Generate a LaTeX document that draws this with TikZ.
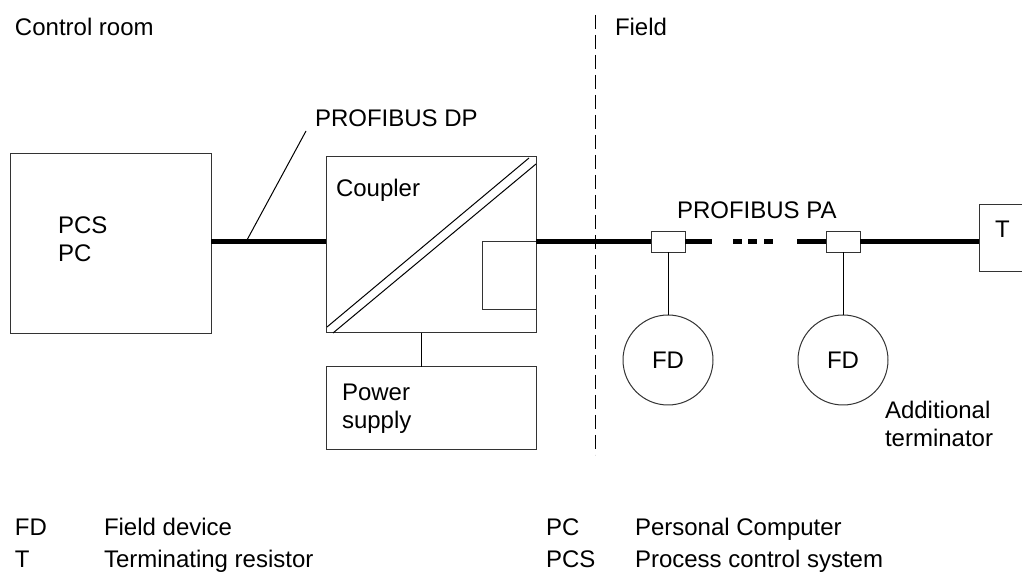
\documentclass[tikz,border=0pt]{standalone}
\usepackage{fontspec}
\setmainfont{Liberation Sans}
\begin{document}
\begin{tikzpicture}[x=0.75pt,y=-0.75pt,
  every node/.style={inner sep=0pt, outer sep=0pt, font=\fontsize{18}{21}\selectfont},
  frame/.style={draw=black!80, line width=0.75pt},
  thinline/.style={draw=black, line width=0.75pt},
  bus/.style={draw=black, line width=3.75pt},
  lbl/.style={anchor=base west, align=left}]
\useasboundingbox (0,0) rectangle (1022,577);

% headings
\node[lbl] (ctrl) at (15,36) {Control room};
\node[lbl] (field) at (615,36) {Field};
\draw[thinline, dash pattern=on 10.5pt off 4.5pt] (595,15) -- (595,455);

% PCS / PC  (base anchor = last line)
\node[frame, minimum width=150.75pt, minimum height=135pt] (pcs) at (110.5,244) {};
\node[lbl] (pcstxt) at (58,262) {PCS\\PC};

% coupler
\node[frame, minimum width=157.5pt, minimum height=132pt] (coupler) at (431,245) {};
\node[lbl] (couplertxt) at (336,197) {Coupler};
\draw[thinline] (327,327) -- (529,158);
\draw[thinline] (333,333) -- (536,164);
\draw[frame] (536,242) -- (482,242) -- (482,310) -- (536,310);

% power supply
\node[frame, minimum width=157.5pt, minimum height=62.25pt] (power) at (431,408.5) {};
\node[lbl] (powertxt) at (342,429) {Power\\supply};
\coordinate (ps) at (421,0);
\draw[thinline] (coupler.south -| ps) -- (power.north -| ps);

% bus
\coordinate (bus) at (0,242);
\draw[bus] (pcs.east |- bus) -- (coupler.west |- bus);
\node[lbl] (dptxt) at (315,127) {PROFIBUS DP};
\coordinate (ldA) at (247,240);
\coordinate (ldB) at (306,131);
\draw[thinline] (ldA) -- (ldB);

\node[frame, minimum width=25.5pt, minimum height=15.75pt] (tap1) at (668,242) {};
\node[frame, minimum width=25.5pt, minimum height=15.75pt] (tap2) at (843,242) {};
\node[minimum width=32.25pt, minimum height=50.25pt] (tbox) at (1000.5,238.5) {};
\draw[frame] (tbox.north east) -- (tbox.north west) -- (tbox.south west) -- (tbox.south east);
\node[lbl] (ttxt) at (995,238) {T};

\coordinate (gapL) at (712,242);
\coordinate (gapR) at (797,242);
\draw[bus] (coupler.east |- bus) -- (tap1.west);
\draw[bus] (tap1.east) -- (gapL);
\fill (733,239.5) rectangle (742,244.5);
\fill (748,239.5) rectangle (757,244.5);
\fill (764,239.5) rectangle (773,244.5);
\draw[bus] (gapR) -- (tap2.west);
\draw[bus] (tap2.east) -- (tbox.west |- bus);
\node[lbl] (patxt) at (677,219) {PROFIBUS PA};

% field devices
\node[circle, draw=black!80, line width=0.75pt, minimum size=67.5pt] (fd1) at (668,360) {FD};
\node[circle, draw=black!80, line width=0.75pt, minimum size=67.5pt] (fd2) at (843,360) {FD};
\draw[thinline] (tap1.south) -- (fd1.north);
\draw[thinline] (tap2.south) -- (fd2.north);
\node[lbl] (addtxt) at (885,447) {Additional\\terminator};

% legend
\node[lbl] (l1a) at (15,535) {FD};
\node[lbl] (l1b) at (104,535) {Field device};
\node[lbl] (l2a) at (15,567) {T};
\node[lbl] (l2b) at (104,567) {Terminating resistor};
\node[lbl] (l3a) at (546,535) {PC};
\node[lbl] (l3b) at (635,535) {Personal Computer};
\node[lbl] (l4a) at (546,567) {PCS};
\node[lbl] (l4b) at (635,567) {Process control system};
\end{tikzpicture}
\end{document}
